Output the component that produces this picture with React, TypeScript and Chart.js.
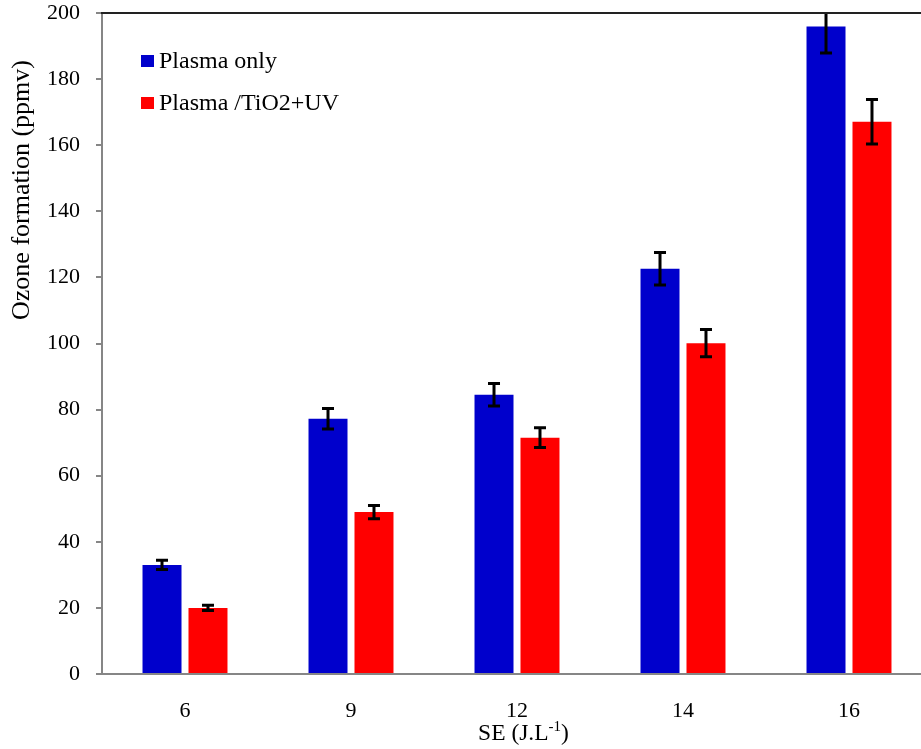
import React, { useEffect, useRef } from "react";
import { Chart, registerables } from "chart.js";

Chart.register(...registerables);

const categories = ["6", "9", "12", "14", "16"];
const plasmaOnly = [33, 77.2, 84.5, 122.6, 195.9];
const plasmaOnlyErr = [1.4, 3.1, 3.4, 4.9, 8];
const plasmaTiO2 = [20, 49, 71.5, 100.1, 167.1];
const plasmaTiO2Err = [0.8, 2, 3, 4.1, 6.7];
const seriesNames = ["Plasma only", "Plasma /TiO2+UV"];
const seriesColors = ["#0000CC", "#FF0000"];
const yTicks = { min: 0, max: 200, step: 20 };
const yTitle = "Ozone formation (ppmv)";
const xTitleMain = "SE (J.L";
const xTitleSup = "-1";
const xTitleEnd = ")";

const FONT = '"Liberation Serif", "Times New Roman", serif';

const errors = [plasmaOnlyErr, plasmaTiO2Err];

const decorPlugin = {
  id: "decor",
  afterDatasetsDraw(chart: any) {
    const ctx = chart.ctx;
    const area = chart.chartArea;
    const yScale = chart.scales.y;
    ctx.save();
    ctx.beginPath();
    ctx.rect(area.left, area.top, area.right - area.left, area.bottom - area.top);
    ctx.clip();
    ctx.strokeStyle = "#000";
    ctx.lineWidth = 3;
    chart.data.datasets.forEach((ds: any, di: number) => {
      const meta = chart.getDatasetMeta(di);
      meta.data.forEach((bar: any, i: number) => {
        const v = ds.data[i];
        const e = errors[di][i];
        const x = bar.x;
        const yTop = yScale.getPixelForValue(v + e);
        const yBot = yScale.getPixelForValue(v - e);
        ctx.beginPath();
        ctx.moveTo(x, yTop);
        ctx.lineTo(x, yBot);
        ctx.moveTo(x - 6, yTop);
        ctx.lineTo(x + 6, yTop);
        ctx.moveTo(x - 6, yBot);
        ctx.lineTo(x + 6, yBot);
        ctx.stroke();
      });
    });
    ctx.restore();
  },
  afterDraw(chart: any) {
    const ctx = chart.ctx;
    const area = chart.chartArea;
    ctx.save();
    ctx.strokeStyle = "#222";
    ctx.lineWidth = 2;
    ctx.beginPath();
    ctx.moveTo(area.left - 1, area.top);
    ctx.lineTo(area.right, area.top);
    ctx.stroke();

    // legend
    ctx.font = `24px ${FONT}`;
    ctx.textBaseline = "middle";
    ctx.textAlign = "left";
    const legendY = [61, 103];
    seriesNames.forEach((name, i) => {
      ctx.fillStyle = seriesColors[i];
      ctx.fillRect(141, legendY[i] - 6, 13, 12);
      ctx.fillStyle = "#000";
      ctx.fillText(name, 159, legendY[i] + 1);
    });

    // y title
    ctx.save();
    ctx.translate(29, 190);
    ctx.rotate(-Math.PI / 2);
    ctx.textAlign = "center";
    ctx.textBaseline = "alphabetic";
    ctx.font = `26px ${FONT}`;
    ctx.fillStyle = "#000";
    ctx.fillText(yTitle, 0, 0);
    ctx.restore();

    // x title with superscript
    const mainFont = `23.5px ${FONT}`;
    const supFont = `15px ${FONT}`;
    ctx.font = mainFont;
    const w1 = ctx.measureText(xTitleMain).width;
    const w3 = ctx.measureText(xTitleEnd).width;
    ctx.font = supFont;
    const w2 = ctx.measureText(xTitleSup).width;
    const total = w1 + w2 + w3;
    let x = 523.5 - total / 2;
    const base = 740;
    ctx.textAlign = "left";
    ctx.textBaseline = "alphabetic";
    ctx.fillStyle = "#000";
    ctx.font = mainFont;
    ctx.fillText(xTitleMain, x, base);
    x += w1;
    ctx.font = supFont;
    ctx.fillText(xTitleSup, x, base - 9);
    x += w2;
    ctx.font = mainFont;
    ctx.fillText(xTitleEnd, x, base);
    ctx.restore();
  },
};

export default function App() {
  const ref = useRef<HTMLCanvasElement | null>(null);

  useEffect(() => {
    if (!ref.current) return;
    const chart = new Chart(ref.current, {
      type: "bar",
      data: {
        labels: categories,
        datasets: [
          {
            label: seriesNames[0],
            data: plasmaOnly,
            backgroundColor: seriesColors[0],
            categoryPercentage: 0.554,
            barPercentage: 0.848,
          },
          {
            label: seriesNames[1],
            data: plasmaTiO2,
            backgroundColor: seriesColors[1],
            categoryPercentage: 0.554,
            barPercentage: 0.848,
          },
        ],
      },
      options: {
        animation: false,
        responsive: false,
        maintainAspectRatio: false,
        layout: { padding: { top: 13, left: 0, right: 0, bottom: 0 } },
        plugins: {
          legend: { display: false },
          tooltip: { enabled: false },
        },
        scales: {
          x: {
            afterFit: (s: any) => {
              s.height = 75;
              s.paddingLeft = 0;
              s.paddingRight = 0;
            },
            grid: { display: true, drawOnChartArea: false, drawTicks: false },
            border: { display: true, color: "#868686", width: 2 },
            ticks: {
              color: "#000",
              font: { family: FONT, size: 22 },
              padding: 24,
            },
          },
          y: {
            min: yTicks.min,
            max: yTicks.max,
            afterFit: (s: any) => {
              s.width = 102;
              s.paddingTop = 0;
              s.paddingBottom = 0;
            },
            grid: {
              display: true,
              drawOnChartArea: false,
              drawTicks: true,
              tickLength: 6,
              color: "#868686",
              lineWidth: 2,
            },
            border: { display: true, color: "#868686", width: 2 },
            ticks: {
              stepSize: yTicks.step,
              color: "#000",
              font: { family: FONT, size: 22 },
              padding: 16,
            },
          },
        },
      },
      plugins: [decorPlugin],
    });
    return () => chart.destroy();
  }, []);

  return (
    <div
      style={{
        position: "fixed",
        left: 0,
        top: 0,
        width: 921,
        height: 749,
        overflow: "hidden",
        background: "#fff",
      }}
    >
      <canvas ref={ref} width={932} height={749} style={{ display: "block" }} />
    </div>
  );
}
